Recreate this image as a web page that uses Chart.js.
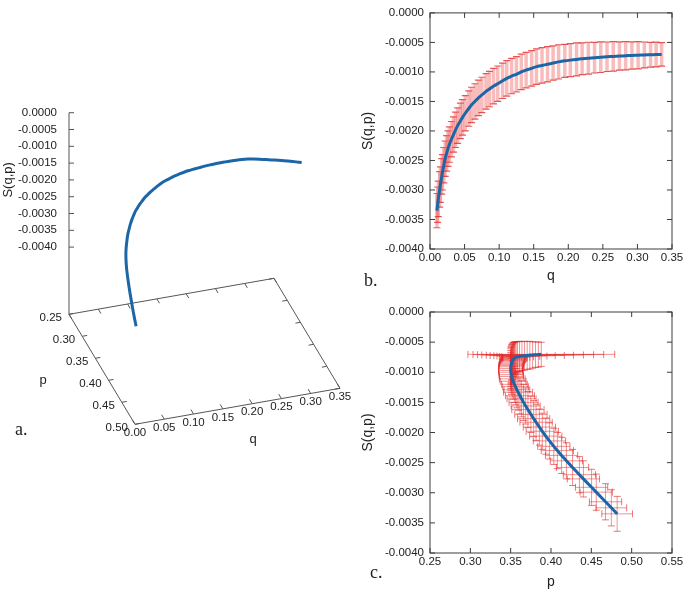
<!DOCTYPE html>
<html>
<head>
<meta charset="utf-8">
<script src="https://cdn.jsdelivr.net/npm/chart.js@4.4.0/dist/chart.umd.min.js"></script>
<style>
  html, body { margin: 0; padding: 0; background: #fff; }
  #wrap { position: relative; width: 685px; height: 596px; overflow: hidden; }
  canvas { position: absolute; }
  .tag { position: absolute; font-family: 'Liberation Serif', 'Times New Roman', serif; font-size: 18px; line-height: 18px; color: #222; }
</style>
</head>
<body>
<div id="wrap">
  <canvas id="chartA" width="370" height="596" style="left:0;top:0"></canvas>
  <canvas id="chartB" width="345" height="290" style="left:340px;top:0"></canvas>
  <canvas id="chartC" width="345" height="306" style="left:340px;top:290px"></canvas>
  <div class="tag" style="left:15px;top:420px">a.</div>
  <div class="tag" style="left:364px;top:271px">b.</div>
  <div class="tag" style="left:370px;top:563px">c.</div>
</div>
<script>
// values (one entry per sample along the curve)
const qVals = [0.010, 0.011, 0.012, 0.014, 0.015, 0.017, 0.018, 0.020, 0.022, 0.024,
               0.026, 0.028, 0.031, 0.034, 0.037, 0.040, 0.044, 0.047, 0.051, 0.056,
               0.060, 0.065, 0.070, 0.075, 0.081, 0.086, 0.092, 0.098, 0.105, 0.111,
               0.118, 0.125, 0.132, 0.139, 0.147, 0.154, 0.162, 0.170, 0.178, 0.186,
               0.195, 0.203, 0.212, 0.220, 0.229, 0.238, 0.247, 0.256, 0.265, 0.274,
               0.283, 0.292, 0.301, 0.310, 0.319, 0.327, 0.335];
const sVals = [-0.00335, -0.00325, -0.00315, -0.00299, -0.00291, -0.00277, -0.00270, -0.00258, -0.00247, -0.00238,
               -0.00230, -0.00223, -0.00214, -0.00206, -0.00198, -0.00191, -0.00183, -0.00177, -0.00170, -0.00162,
               -0.00156, -0.00150, -0.00144, -0.00139, -0.00133, -0.00129, -0.00124, -0.00120, -0.00115, -0.00111,
               -0.00107, -0.00104, -0.00100, -0.00097, -0.00094, -0.00091, -0.00089, -0.00087, -0.00085, -0.000830,
               -0.000812, -0.000800, -0.000788, -0.000777, -0.000767, -0.000758, -0.000750, -0.000743, -0.000737, -0.000731,
               -0.000726, -0.000721, -0.000717, -0.000713, -0.000709, -0.000706, -0.000703];
const sErr = [0.00029, 0.00030, 0.00030, 0.00030, 0.00030, 0.00030, 0.00030, 0.00030, 0.00030, 0.00030,
              0.00030, 0.00030, 0.00030, 0.00030, 0.00030, 0.00030, 0.00030, 0.00030, 0.00030, 0.00030,
              0.00030, 0.00030, 0.00030, 0.00030, 0.00030, 0.00030, 0.00030, 0.00030, 0.00030, 0.00030,
              0.00030, 0.00030, 0.00030, 0.00030, 0.00030, 0.00030, 0.00030, 0.00030, 0.00029, 0.00029,
              0.00028, 0.00028, 0.00028, 0.00027, 0.00027, 0.00026, 0.00026, 0.00025, 0.00025, 0.00024,
              0.00024, 0.00023, 0.00023, 0.00022, 0.00021, 0.00021, 0.00020];
const pVals = [0.4820, 0.4748, 0.4676, 0.4561, 0.4503, 0.4402, 0.4352, 0.4267, 0.4191, 0.4131,
               0.4079, 0.4035, 0.3981, 0.3935, 0.3892, 0.3856, 0.3815, 0.3785, 0.3751, 0.3714,
               0.3686, 0.3660, 0.3635, 0.3615, 0.3592, 0.3577, 0.3560, 0.3546, 0.3531, 0.3520,
               0.3511, 0.3506, 0.3502, 0.3501, 0.3501, 0.3502, 0.3504, 0.3507, 0.3511, 0.3516,
               0.3521, 0.3526, 0.3532, 0.3539, 0.3547, 0.3556, 0.3568, 0.3585, 0.3610, 0.3640,
               0.3672, 0.3705, 0.3738, 0.3772, 0.3808, 0.3843, 0.3880];
const pErr = [0.019, 0.019, 0.020, 0.020, 0.020, 0.020, 0.020, 0.020, 0.020, 0.020,
              0.020, 0.020, 0.020, 0.020, 0.020, 0.020, 0.020, 0.020, 0.020, 0.020,
              0.018, 0.018, 0.018, 0.018, 0.018, 0.016, 0.016, 0.016, 0.016, 0.016,
              0.015, 0.015, 0.015, 0.015, 0.015, 0.015, 0.015, 0.015, 0.015, 0.015,
              0.015, 0.015, 0.015, 0.015, 0.015, 0.015, 0.017, 0.020, 0.025, 0.031,
              0.038, 0.046, 0.054, 0.063, 0.072, 0.081, 0.091];

// tick labels
const qTicks = [0.00, 0.05, 0.10, 0.15, 0.20, 0.25, 0.30, 0.35];
const pTicks = [0.25, 0.30, 0.35, 0.40, 0.45, 0.50, 0.55];
const pTicks3d = [0.25, 0.30, 0.35, 0.40, 0.45, 0.50];
const sTicks = [0.0000, -0.0005, -0.0010, -0.0015, -0.0020, -0.0025, -0.0030, -0.0035, -0.0040];
const sFloor = -0.006;   // base plane of the 3D view

const blue = '#1c66a8';
const ink = '#222';
const sansFamily = "'Liberation Sans', Arial, sans-serif";
const tickFont = { family: sansFamily, size: 11.5 };
const narrowFont = { family: "'Liberation Sans Narrow', 'Liberation Sans', Arial, sans-serif", size: 11.5 };
const titleFont = { family: sansFamily, size: 14 };

// ---------- shared plugins ----------
const framePlugin = {
    id: 'frame',
    beforeDatasetsDraw(chart) {
        const { ctx, chartArea: a, scales: { x, y } } = chart;
        ctx.save();
        ctx.strokeStyle = '#3c3c3c';
        ctx.lineWidth = 1;
        ctx.strokeRect(a.left, a.top, a.right - a.left, a.bottom - a.top);
        ctx.beginPath();
        x.ticks.forEach(t => {
            const px = x.getPixelForValue(t.value);
            ctx.moveTo(px, a.bottom); ctx.lineTo(px, a.bottom - 5);
            ctx.moveTo(px, a.top); ctx.lineTo(px, a.top + 5);
        });
        y.ticks.forEach(t => {
            const py = y.getPixelForValue(t.value);
            ctx.moveTo(a.left, py); ctx.lineTo(a.left + 5, py);
            ctx.moveTo(a.right, py); ctx.lineTo(a.right - 5, py);
        });
        ctx.stroke();
        ctx.restore();
    }
};

function errorBarPlugin(id, xErr, yErr, style) {
    return {
        id: id,
        beforeDatasetsDraw(chart) {
            const { ctx, chartArea: a, scales: { x, y } } = chart;
            const pts = chart.data.datasets[0].data;
            ctx.save();
            ctx.beginPath();
            ctx.rect(a.left, a.top, a.right - a.left, a.bottom - a.top);
            ctx.clip();
            pts.forEach((pt, i) => {
                const px = x.getPixelForValue(pt.x);
                const py = y.getPixelForValue(pt.y);
                if (yErr) {
                    const y1 = y.getPixelForValue(pt.y - yErr[i]);
                    const y2 = y.getPixelForValue(pt.y + yErr[i]);
                    ctx.strokeStyle = style.bar; ctx.lineWidth = style.barWidth;
                    ctx.beginPath(); ctx.moveTo(px, y1); ctx.lineTo(px, y2); ctx.stroke();
                    ctx.strokeStyle = style.cap; ctx.lineWidth = style.capWidth;
                    ctx.beginPath();
                    ctx.moveTo(px - style.capHalf, y1); ctx.lineTo(px + style.capHalf, y1);
                    ctx.moveTo(px - style.capHalf, y2); ctx.lineTo(px + style.capHalf, y2);
                    ctx.stroke();
                }
                if (xErr) {
                    const x1 = x.getPixelForValue(pt.x - xErr[i]);
                    const x2 = x.getPixelForValue(pt.x + xErr[i]);
                    ctx.strokeStyle = style.bar; ctx.lineWidth = style.barWidth;
                    ctx.beginPath(); ctx.moveTo(x1, py); ctx.lineTo(x2, py); ctx.stroke();
                    ctx.strokeStyle = style.cap; ctx.lineWidth = style.capWidth;
                    ctx.beginPath();
                    ctx.moveTo(x1, py - style.capHalf); ctx.lineTo(x1, py + style.capHalf);
                    ctx.moveTo(x2, py - style.capHalf); ctx.lineTo(x2, py + style.capHalf);
                    ctx.stroke();
                }
            });
            ctx.restore();
        }
    };
}

function axis2d(min, max, ticks, digits, font, size, title, titlePad, isX) {
    return {
        type: 'linear', min: min, max: max,
        afterBuildTicks: s => { s.ticks = ticks.map(v => ({ value: v })); },
        afterFit: s => { if (isX) s.height = size; else s.width = size; },
        grid: { display: false, drawTicks: false },
        border: { display: false },
        ticks: {
            font: font, color: ink, autoSkip: false, maxRotation: 0, minRotation: 0,
            padding: isX ? 1.6 : 6,
            callback: v => v.toFixed(digits)
        },
        title: { display: true, text: title, font: titleFont, color: ink, padding: titlePad }
    };
}

const baseOptions = {
    responsive: false, animation: false, events: [], devicePixelRatio: 1,
    plugins: { legend: { display: false }, tooltip: { enabled: false } }
};

// ---------- b. S(q,p) against q ----------
new Chart(document.getElementById('chartB'), {
    type: 'scatter',
    data: {
        datasets: [{
            data: qVals.map((q, i) => ({ x: q, y: sVals[i] })),
            showLine: true, borderColor: blue, borderWidth: 3, pointRadius: 0, tension: 0.2
        }]
    },
    options: Object.assign({}, baseOptions, {
        layout: { padding: { left: 0, right: 13, top: 6, bottom: 0 } },
        scales: {
            x: axis2d(0, 0.35, qTicks, 2, narrowFont, 41, 'q', { top: 0, bottom: 5 }, true),
            y: axis2d(-0.004, 0, sTicks, 4, tickFont, 90, 'S(q,p)', { top: 19.6, bottom: 0 }, false)
        }
    }),
    plugins: [framePlugin, errorBarPlugin('errB', null, sErr, {
        bar: 'rgba(238,95,95,0.42)', barWidth: 3.5,
        cap: 'rgba(222,35,35,0.75)', capWidth: 1.2, capHalf: 3.5
    })]
});

// ---------- c. S(q,p) against p ----------
new Chart(document.getElementById('chartC'), {
    type: 'scatter',
    data: {
        datasets: [{
            data: pVals.map((p, i) => ({ x: p, y: sVals[i] })),
            showLine: true, borderColor: blue, borderWidth: 3, pointRadius: 0, tension: 0.2
        }]
    },
    options: Object.assign({}, baseOptions, {
        layout: { padding: { left: 0, right: 13, top: 22, bottom: 0 } },
        scales: {
            x: axis2d(0.25, 0.55, pTicks, 2, narrowFont, 43, 'p', { top: 0, bottom: 5.5 }, true),
            y: axis2d(-0.004, 0, sTicks, 4, tickFont, 90, 'S(q,p)', { top: 19.6, bottom: 0 }, false)
        }
    }),
    plugins: [framePlugin, errorBarPlugin('errC', pErr, sErr, {
        bar: 'rgba(228,40,40,0.5)', barWidth: 1,
        cap: 'rgba(225,30,30,0.6)', capWidth: 1, capHalf: 3.5
    })]
});

// ---------- a. 3D view of (q, p, S) ----------
// orthographic view: screen offsets per unit of q, p and S
const view = { ox: 69, oy: 314.3, qx: 205 / 0.35, qy: -36 / 0.35, px: 66 / 0.25, py: 110 / 0.25, sy: 33.6 / 0.001 };
function project(q, p, s) {
    return {
        x: view.ox + q * view.qx + (p - 0.25) * view.px,
        y: view.oy + q * view.qy + (p - 0.25) * view.py - (s - sFloor) * view.sy
    };
}

const box3dPlugin = {
    id: 'box3d',
    beforeDatasetsDraw(chart) {
        const { ctx, scales: { x, y } } = chart;
        const pt = (q, p, s) => { const v = project(q, p, s); return [x.getPixelForValue(v.x), y.getPixelForValue(v.y)]; };
        const seg = (a, b) => { ctx.moveTo(a[0], a[1]); ctx.lineTo(b[0], b[1]); };
        const q0 = qTicks[0], q1 = qTicks[qTicks.length - 1];
        const p0 = pTicks3d[0], p1 = pTicks3d[pTicks3d.length - 1];
        ctx.save();
        ctx.strokeStyle = '#555';
        ctx.lineWidth = 1;
        ctx.beginPath();
        seg(pt(q0, p0, sFloor), pt(q1, p0, sFloor));
        seg(pt(q1, p0, sFloor), pt(q1, p1, sFloor));
        seg(pt(q1, p1, sFloor), pt(q0, p1, sFloor));
        seg(pt(q0, p1, sFloor), pt(q0, p0, sFloor));
        seg(pt(q0, p0, sFloor), pt(q0, p0, sTicks[0]));
        qTicks.forEach(v => {
            seg(pt(v, p1, sFloor), pt(v, p1 - 0.01, sFloor));
            seg(pt(v, p0, sFloor), pt(v, p0 + 0.01, sFloor));
        });
        pTicks3d.forEach(v => {
            seg(pt(q0, v, sFloor), pt(q0 + 0.0085, v, sFloor));
            seg(pt(q1, v, sFloor), pt(q1 - 0.0085, v, sFloor));
        });
        sTicks.forEach(v => { const a = pt(q0, p0, v); seg(a, [a[0] + 5, a[1]]); });
        ctx.stroke();

        ctx.fillStyle = ink;
        ctx.font = '11.5px ' + sansFamily;
        ctx.textBaseline = 'middle';
        ctx.textAlign = 'right';
        sTicks.forEach(v => { const a = pt(q0, p0, v); ctx.fillText(v.toFixed(4), a[0] - 12, a[1]); });
        pTicks3d.forEach(v => { const a = pt(q0, v, sFloor); ctx.fillText(v.toFixed(2), a[0] - 7, a[1] + 3.5); });
        ctx.textAlign = 'center';
        qTicks.forEach(v => { const a = pt(v, p1, sFloor); ctx.fillText(v.toFixed(2), a[0], a[1] + 8.5); });

        ctx.font = '13px ' + sansFamily;
        const qa = pt((q0 + q1) / 2, p1, sFloor);
        ctx.fillText('q', qa[0] + 15.5, qa[1] + 33);
        const pa = pt(q0, (p0 + p1) / 2, sFloor);
        ctx.fillText('p', pa[0] - 59, pa[1] + 11);
        const sa = pt(q0, p0, -0.002);
        ctx.translate(sa[0] - 61, sa[1]);
        ctx.rotate(-Math.PI / 2);
        ctx.fillText('S(q,p)', 0, 0);
        ctx.restore();
    }
};

const canvasA = document.getElementById('chartA');
new Chart(canvasA, {
    type: 'scatter',
    data: {
        datasets: [{
            data: qVals.map((q, i) => project(q, pVals[i], sVals[i])),
            showLine: true, borderColor: blue, borderWidth: 3, pointRadius: 0, tension: 0.3
        }]
    },
    options: Object.assign({}, baseOptions, {
        layout: { padding: 0 },
        scales: {
            x: { type: 'linear', display: false, min: 0, max: canvasA.width },
            y: { type: 'linear', display: false, min: 0, max: canvasA.height, reverse: true }
        }
    }),
    plugins: [box3dPlugin]
});
</script>
</body>
</html>
